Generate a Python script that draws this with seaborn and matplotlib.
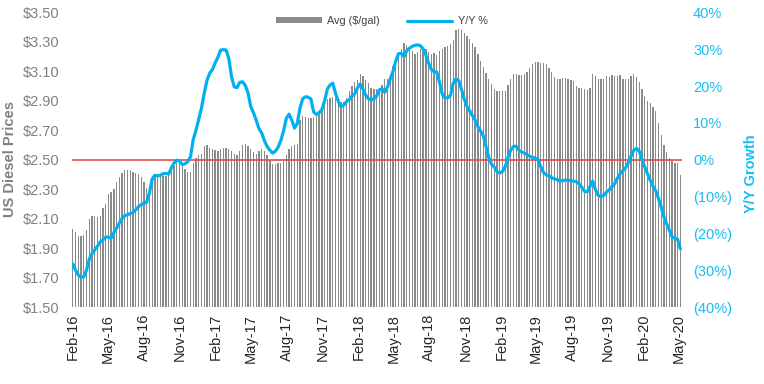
import numpy as np
import pandas as pd
import matplotlib
matplotlib.use("Agg")
import matplotlib.pyplot as plt
import seaborn as sns
from matplotlib.lines import Line2D
from matplotlib.patches import Patch
from matplotlib.ticker import FuncFormatter

# ---------------- data (weekly, first week = 2016-02-01) ----------------
start_week = "2016-02-01"

price_2016 = [2.03, 2.01, 1.98, 1.98, 1.99, 2.02, 2.10, 2.12, 2.12, 2.11,
              2.12, 2.17, 2.20, 2.27, 2.28, 2.30, 2.35, 2.38, 2.41, 2.43,
              2.43, 2.43, 2.42, 2.41, 2.40, 2.38, 2.35, 2.31, 2.31, 2.37,
              2.40, 2.40, 2.39, 2.39, 2.39, 2.40, 2.43, 2.46, 2.48, 2.48,
              2.47, 2.44, 2.42, 2.415, 2.48, 2.51, 2.53, 2.54]
price_2017 = [2.59, 2.60, 2.58, 2.57, 2.565, 2.56, 2.57, 2.58, 2.58, 2.575,
              2.56, 2.54, 2.535, 2.56, 2.60, 2.605, 2.59, 2.57, 2.55, 2.54,
              2.56, 2.57, 2.56, 2.53, 2.50, 2.47, 2.47, 2.475, 2.48, 2.49,
              2.53, 2.57, 2.59, 2.60, 2.605, 2.77, 2.80, 2.79, 2.785, 2.785,
              2.79, 2.80, 2.825, 2.85, 2.87, 2.915, 2.92, 2.925, 2.92, 2.905,
              2.89, 2.89]
price_2018 = [2.92, 2.97, 3.00, 3.03, 3.04, 3.08, 3.07, 3.04, 3.02, 2.99,
              2.98, 2.98, 2.99, 3.01, 3.045, 3.05, 3.08, 3.14, 3.17, 3.23,
              3.25, 3.29, 3.28, 3.26, 3.24, 3.22, 3.235, 3.25, 3.26, 3.25,
              3.235, 3.22, 3.225, 3.21, 3.24, 3.255, 3.265, 3.27, 3.285, 3.31,
              3.38, 3.39, 3.38, 3.36, 3.34, 3.32, 3.295, 3.265, 3.215, 3.17,
              3.13, 3.09, 3.05]
price_2019 = [3.015, 2.98, 2.966, 2.965, 2.965, 2.965, 3.01,
              3.05, 3.08, 3.08, 3.075, 3.078, 3.08, 3.095, 3.12, 3.15, 3.165,
              3.165, 3.16, 3.16, 3.15, 3.125, 3.095, 3.06, 3.05, 3.05, 3.055,
              3.055, 3.05, 3.04, 3.035, 3.00, 2.99, 2.985, 2.98, 2.975, 2.985,
              3.085, 3.07, 3.05, 3.05, 3.05, 3.07, 3.065, 3.075, 3.07, 3.07,
              3.075, 3.05, 3.045, 3.045, 3.07]
price_2020 = [3.08, 3.065, 3.03, 2.98, 2.93, 2.90, 2.885, 2.86, 2.83, 2.75,
              2.67, 2.60, 2.55, 2.51, 2.49, 2.48, 2.48, 2.395]

yoy_2016 = [-28.3, -30.0, -31.3, -31.9, -31.8, -30.0, -27.0, -25.5, -24.5, -23.5,
            -22.3, -21.8, -21.0, -21.0, -21.3, -19.8, -18.6, -17.2, -15.9, -15.2,
            -14.9, -14.6, -14.3, -13.6, -12.7, -12.2, -11.8, -11.5, -9.0, -5.2,
            -4.2, -4.4, -4.2, -3.8, -3.7, -3.9, -2.2, -0.9, -0.1, -0.4,
            -1.3, -1.1, -0.5, 0.8, 5.5, 8.0, 11.0, 14.0]
yoy_2017 = [18.0, 21.5, 23.5, 24.5, 26.3, 27.8, 29.8, 29.9, 29.8, 27.5,
            22.5, 19.8, 19.6, 21.0, 21.2, 20.2, 18.2, 14.5, 12.8, 10.8,
            8.5, 7.3, 5.2, 3.6, 2.6, 1.8, 2.3, 3.4, 5.2, 7.8,
            11.2, 12.4, 10.8, 8.6, 9.8, 14.0, 16.6, 17.1, 17.0, 16.5,
            13.0, 12.3, 12.8, 13.6, 16.0, 19.2, 20.3, 20.8, 18.0, 15.9,
            14.4, 14.8]
yoy_2018 = [15.8, 16.3, 17.3, 17.9, 19.5, 20.6, 19.2, 17.6, 16.6, 16.2,
            16.5, 17.3, 19.0, 19.3, 18.3, 19.8, 22.0, 24.0, 26.8, 28.8,
            28.9, 28.0, 29.6, 30.3, 30.8, 31.1, 31.2, 31.0, 30.1, 28.5,
            26.3, 24.5, 23.9, 23.8, 21.0, 17.8, 16.8, 16.8, 17.5, 20.8,
            22.0, 21.5, 19.2, 16.5, 14.5, 13.3, 12.0, 10.8, 9.0, 7.8,
            6.5, 3.5, 0.6]
yoy_2019 = [-1.2, -2.0, -3.2, -3.6, -3.2, -1.9, 0.6,
            2.6, 3.6, 3.7, 2.6, 2.1, 1.8, 1.4, 0.9, 0.7, 0.4,
            0.0, -1.9, -3.5, -4.1, -4.4, -4.9, -5.2, -5.4, -5.8, -5.7,
            -5.5, -5.6, -5.7, -5.8, -6.0, -6.5, -7.5, -8.6, -8.7, -7.2,
            -5.8, -8.2, -9.7, -10.0, -9.7, -8.8, -8.2, -7.3, -6.5, -5.0,
            -3.8, -3.0, -2.2, -0.8, 1.0]
yoy_2020 = [2.6, 3.1, 2.3, 0.0, -2.0, -3.8, -5.6, -7.2, -8.4, -10.5,
            -12.8, -15.5, -17.4, -19.2, -21.0, -21.3, -21.6, -24.2]

tick_labels = ["Feb-16", "May-16", "Aug-16", "Nov-16", "Feb-17", "May-17",
               "Aug-17", "Nov-17", "Feb-18", "May-18", "Aug-18", "Nov-18",
               "Feb-19", "May-19", "Aug-19", "Nov-19", "Feb-20", "May-20"]

price = price_2016 + price_2017 + price_2018 + price_2019 + price_2020
yoy = yoy_2016 + yoy_2017 + yoy_2018 + yoy_2019 + yoy_2020
weeks = np.arange(len(price))
df = pd.DataFrame({"week": weeks, "price": price,
                   "yoy": np.array(yoy) / 100.0})

start = pd.Timestamp(start_week)
tick_pos = [(pd.to_datetime(t, format="%b-%y") - start).days / 7.0
            for t in tick_labels]

# ---------------- style ----------------
sns.set_style("white")
plt.rcParams["font.family"] = ["Liberation Sans", "DejaVu Sans"]

GRAY = "#8A8A8A"
CYAN = "#00B0F0"
CYAN_TXT = "#17BEF3"
RED = "#E04B4B"

W, H = 764, 384
fig = plt.figure(figsize=(W / 100, H / 100), dpi=100)
ax = fig.add_axes([72 / W, 1 - 307 / H, (682 - 72) / W, (307 - 12.5) / H])

sns.barplot(data=df, x="week", y="price", native_scale=True, color=GRAY,
            saturation=1, width=0.48, linewidth=0, errorbar=None, ax=ax)
ax.axhline(2.5, color=RED, linewidth=1.2, zorder=3)

ax.set_ylim(1.5, 3.5)
ax.set_yticks(np.arange(1.5, 3.51, 0.2))
ax.yaxis.set_major_formatter(FuncFormatter(lambda v, p: f"${v:.2f}"))
ax.set_xlim(-0.3, len(price) - 0.4)
ax.set_xticks(tick_pos)
ax.set_xticklabels(tick_labels, rotation=90)
ax.tick_params(axis="x", length=0, pad=5, labelsize=10.5, labelcolor="#262626")
ax.tick_params(axis="y", length=0, pad=9, labelsize=10.5, labelcolor="#808080")
ax.set_xlabel("")
ax.set_ylabel("")
for s in ax.spines.values():
    s.set_visible(False)

ax2 = ax.twinx()
sns.lineplot(data=df, x="week", y="yoy", color=CYAN, linewidth=2.3, ax=ax2)
ax2.set_ylim(-0.4, 0.4)
ax2.set_yticks(np.arange(-0.4, 0.41, 0.1))


def pct(v, p):
    r = int(round(v * 100))
    return f"{r}%" if r >= 0 else f"({abs(r)}%)"


ax2.yaxis.set_major_formatter(FuncFormatter(pct))
ax2.tick_params(axis="y", length=0, pad=8, labelsize=10.5, labelcolor=CYAN_TXT)
ax2.set_ylabel("")
ax2.set_xlabel("")
for s in ax2.spines.values():
    s.set_visible(False)
ax2.set_xlim(ax.get_xlim())

fig.text(10 / W, 1 - 159 / H, "US Diesel Prices", rotation=90, ha="center",
         va="center", fontsize=10.5, fontweight="bold", color="#808080")
fig.text(751 / W, 1 - 174 / H, "Y/Y Growth", rotation=90, ha="center",
         va="center", fontsize=10.5, fontweight="bold", color=CYAN_TXT)

handles = [Patch(facecolor=GRAY, edgecolor="none", label="Avg ($/gal)"),
           Line2D([0], [0], color=CYAN, linewidth=2.3, label="Y/Y %")]
fig.legend(handles=handles, loc="center", bbox_to_anchor=(382 / W, 1 - 21 / H),
           ncol=2, frameon=False, fontsize=7.8, handlelength=4.2,
           handleheight=0.5, columnspacing=2.5, handletextpad=0.5,
           labelcolor="#404040")

fig.savefig("out.png", dpi=100)
